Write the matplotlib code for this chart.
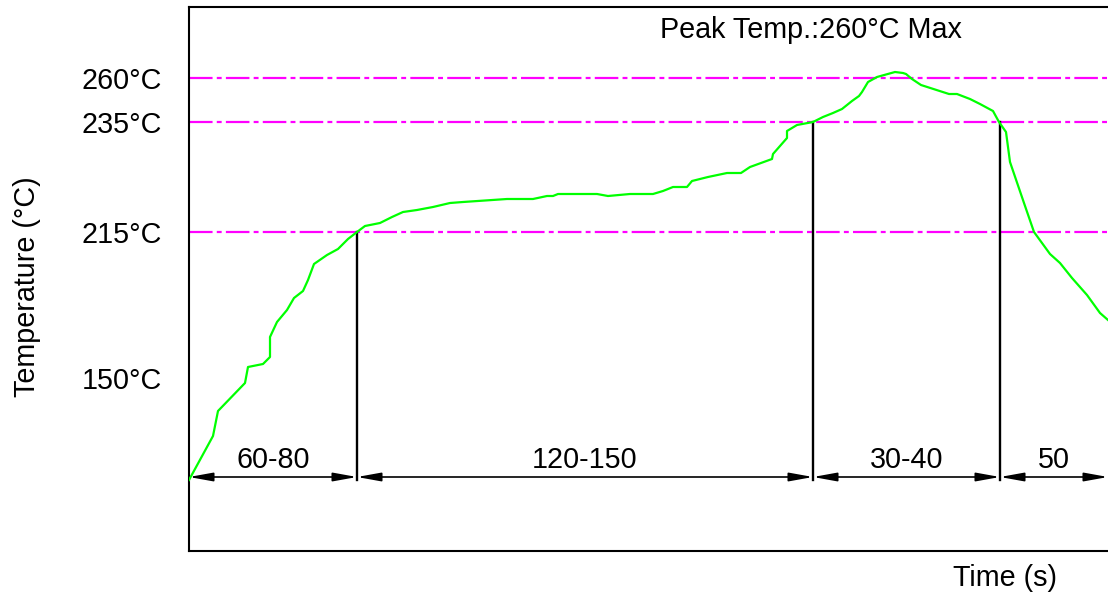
import matplotlib.pyplot as plt

plt.rcParams['font.family'] = ['Liberation Sans', 'DejaVu Sans']

# Perfil de temperatura (unidades esquematicas del dibujo)
time_pts = [0, 24, 29, 56, 59, 74, 81, 81, 88, 98, 105, 114, 119, 125, 138, 149, 159, 168,
            176, 191, 203, 214, 228, 244, 261, 274, 318, 344, 358, 364, 369, 408, 419, 441,
            464, 474, 484, 498, 503, 519, 538, 552, 561, 583, 584, 598, 598, 608, 624, 634,
            644, 653, 663, 670, 673, 679, 688, 706, 714, 717, 723, 732, 760, 768, 781, 791,
            804, 810, 817, 821, 835, 845, 861, 871, 883, 898, 911, 919]
temp_pts = [71, 115, 140, 168, 184, 187, 194, 214, 229, 241, 253, 260, 271, 287, 296, 302, 312, 319,
            325, 328, 334, 339, 341, 344, 348, 349, 352, 352, 355, 355, 357, 357, 355, 357,
            357, 360, 364, 364, 370, 374, 378, 378, 384, 392, 397, 413, 420, 426, 429, 434,
            438, 442, 450, 455, 459, 469, 474, 479, 478, 477, 472, 466, 457, 457, 452, 447,
            440, 429, 419, 389, 348, 319, 297, 288, 273, 256, 238, 231]

# Niveles de temperatura
level_pos = [473, 429, 319, 173]
level_labels = ['260°C', '235°C', '215°C', '150°C']
line_levels = [473, 429, 319]

# Zonas de tiempo
zone_edges = [0, 168, 624, 811, 919]
zone_labels = ['60-80', '120-150', '30-40', '50']
zone_tops = [319, 429, 429]

fs = 20.7

fig = plt.figure(figsize=(11.08, 5.93), dpi=100)
ax = fig.add_axes([189 / 1108, 42 / 593, 919 / 1108, 544 / 593])
ax.set_xlim(0, 919)
ax.set_ylim(0, 544)

for y in line_levels:
    ax.axhline(y, color='#ff00ff', lw=1.6, dashes=(10.6, 1.9, 2.2, 1.9), zorder=1)

ax.plot(time_pts, temp_pts, color='#00ff00', lw=1.6, zorder=3)

for x, top in zip(zone_edges[1:4], zone_tops):
    ax.plot([x, x], [71, top], color='black', lw=1.7, zorder=2)

arrow_y = 74
for i in range(len(zone_labels)):
    x0 = zone_edges[i]
    x1 = zone_edges[i + 1]
    ax.annotate('', xy=(x1, arrow_y), xytext=(x0, arrow_y),
                arrowprops=dict(arrowstyle='<|-|>,head_length=0.72,head_width=0.13',
                                mutation_scale=20, color='black', lw=1.2,
                                shrinkA=0, shrinkB=0), zorder=4)
    ax.text((x0 + x1) / 2, 91, zone_labels[i], ha='center', va='center', fontsize=fs)

ax.set_xticks([])
ax.set_yticks(level_pos)
ax.set_yticklabels(level_labels, fontsize=fs)
ax.tick_params(axis='y', length=0, pad=19.5)

for s in ['left', 'bottom', 'top']:
    ax.spines[s].set_linewidth(1.5)
ax.spines['right'].set_visible(False)

ax.text(622, 521, 'Peak Temp.:260°C Max', ha='center', va='center', fontsize=fs)
fig.text(27 / 1108, 1 - 287 / 593, 'Temperature (°C)', rotation=90,
         ha='center', va='center', fontsize=fs)
fig.text(1005 / 1108, 1 - 578 / 593, 'Time (s)', ha='center', va='center', fontsize=fs)

fig.savefig('out.png', dpi=100)
